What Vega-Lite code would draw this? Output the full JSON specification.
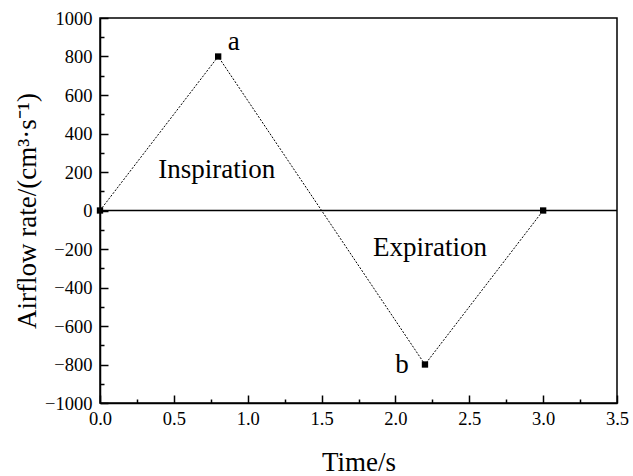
{
  "$schema": "https://vega.github.io/schema/vega-lite/v6.json",
  "autosize": "none",
  "width": 517,
  "height": 385,
  "padding": {"left": 100, "top": 18, "right": 16, "bottom": 73},
  "background": "white",
  "config": {
    "font": "Liberation Serif",
    "view": {"stroke": "black", "strokeWidth": 1.5},
    "axis": {"grid": false, "ticks": true, "domainColor": "black", "domainWidth": 1.5, "tickColor": "black", "tickWidth": 1.5, "labelColor": "black", "titleColor": "black", "labelFont": "Liberation Serif", "titleFont": "Liberation Serif", "titleFontWeight": "normal", "labelFontSize": 18.5, "titleFontSize": 27, "labelOverlap": false}
  },
  "datasets": {
    "flow": [
      {"t": 0.0, "q": 0},
      {"t": 0.8, "q": 800},
      {"t": 2.2, "q": -800},
      {"t": 3.0, "q": 0}
    ],
    "notes": [
      {"t": 0.905, "q": 875, "label": "a"},
      {"t": 2.045, "q": -803, "label": "b"},
      {"t": 0.79, "q": 210, "label": "Inspiration"},
      {"t": 2.234, "q": -195, "label": "Expiration"}
    ],
    "zero": [{"t": 0, "q": 0}, {"t": 3.5, "q": 0}]
  },
  "encoding": {
    "x": {
      "field": "t", "type": "quantitative",
      "scale": {"domain": [0, 3.5], "nice": false, "zero": false},
      "axis": {
        "title": "Time/s",
        "titlePadding": 18,
        "zindex": 1,
        "values": [0, 0.25, 0.5, 0.75, 1, 1.25, 1.5, 1.75, 2, 2.25, 2.5, 2.75, 3, 3.25, 3.5],
        "labelExpr": "datum.value % 0.5 == 0 ? format(datum.value, '.1f') : ''",
        "tickSize": {"condition": {"test": "datum.value % 0.5 != 0", "value": -4}, "value": -8},
        "labelPadding": 14,
        "labelOverlap": false,
        "labelFlush": false
      }
    },
    "y": {
      "field": "q", "type": "quantitative",
      "scale": {"domain": [-1000, 1000], "nice": false},
      "axis": {
        "title": "Airflow rate/(cm³·s⁻¹)",
        "titlePadding": 3,
        "zindex": 1,
        "values": [-1000, -900, -800, -700, -600, -500, -400, -300, -200, -100, 0, 100, 200, 300, 400, 500, 600, 700, 800, 900, 1000],
        "labelExpr": "datum.value % 200 == 0 ? format(datum.value, 'd') : ''",
        "tickSize": {"condition": {"test": "datum.value % 200 != 0", "value": -4}, "value": -8},
        "labelPadding": 16,
        "labelOverlap": false,
        "labelFlush": false
      }
    }
  },
  "layer": [
    {
      "data": {"name": "zero"},
      "mark": {"type": "line", "color": "black", "strokeWidth": 1.5}
    },
    {
      "data": {"name": "flow"},
      "mark": {"type": "line", "color": "black", "strokeWidth": 1, "strokeDash": [2, 1.5]}
    },
    {
      "data": {"name": "flow"},
      "mark": {"type": "point", "shape": "square", "filled": true, "color": "black", "size": 40, "opacity": 1}
    },
    {
      "data": {"name": "notes"},
      "mark": {"type": "text", "fontSize": 27, "color": "black", "align": "center", "baseline": "middle"},
      "encoding": {"text": {"field": "label"}}
    }
  ]
}
